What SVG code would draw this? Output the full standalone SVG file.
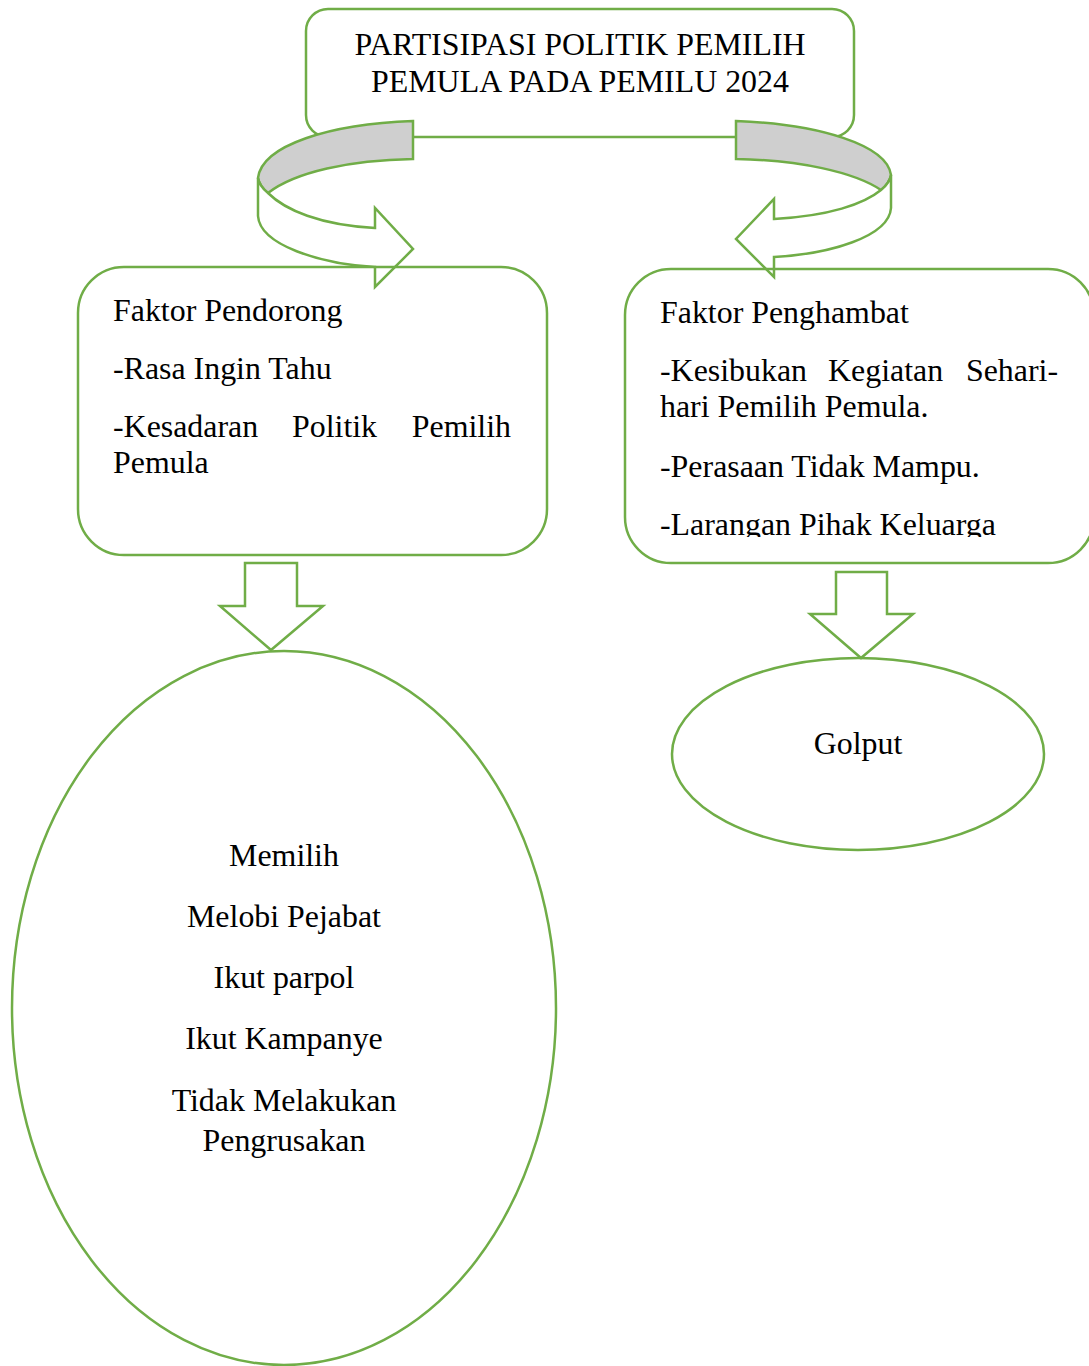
<svg xmlns="http://www.w3.org/2000/svg" width="1089" height="1366" viewBox="0 0 1089 1366">
<style>
.s{fill:none;stroke:#70AD47;stroke-width:2.5;stroke-linejoin:miter}
.w{fill:#FFFFFF;stroke:#70AD47;stroke-width:2.5}
.g{fill:#CFCFCF;stroke:#70AD47;stroke-width:2.5}
text{font-family:"Liberation Serif","Times New Roman",serif;font-size:31.9px;fill:#000}
.c{text-anchor:middle}
</style>
<defs>
<clipPath id="clipR"><rect x="620" y="260" width="469" height="277"/></clipPath>
</defs>
<rect width="1089" height="1366" fill="#FFFFFF"/>
<g id="title">
<rect class="w" x="306" y="9" width="548" height="128" rx="22"/>
<text class="c" x="580" y="55">PARTISIPASI POLITIK PEMILIH</text>
<text class="c" x="580" y="92">PEMULA PADA PEMILU 2024</text>
</g>
<g id="connectors">
<path class="g" d="M413,121 C330,124 262,145 258,178 C259,184 263,189 268,193 C295,172 350,160 413,159 Z"/>
<path class="w" d="M258,178 L258,216 C260,245 320,264 375,267 L375,287 L413,249 L375,208 L375,228 C320,225 285,210 268,193 C263,189 259,184 258,178 Z"/>
<path class="g" d="M736,121 C819,124 887,145 891,175 C890,181 886,186 881,190 C854,172 799,160 736,159 Z"/>
<path class="w" d="M891,175 L891,208 C889,237 829,254 774,257 L774,277 L736,239 L774,199 L774,219 C829,216 864,204 881,190 C886,186 890,181 891,175 Z"/>
<path class="w" d="M245,563 L297,563 L297,606 L323,606 L271,650 L220,606 L245,606 Z"/>
<path class="w" d="M836,572 L887,572 L887,614 L913,614 L861,658 L810,614 L836,614 Z"/>
</g>
<g id="pendorong">
<rect class="s" x="78" y="267" width="469" height="288" rx="46"/>
<text x="113" y="321">Faktor Pendorong</text>
<text x="113" y="379">-Rasa Ingin Tahu</text>
<text x="113" y="437">-Kesadaran</text>
<text x="292" y="437">Politik</text>
<text x="511" y="437" text-anchor="end">Pemilih</text>
<text x="113" y="473">Pemula</text>
</g>
<g id="penghambat">
<rect class="s" x="625" y="269" width="469" height="294" rx="46"/>
<text x="660" y="323">Faktor Penghambat</text>
<text x="660" y="381">-Kesibukan</text>
<text x="828" y="381">Kegiatan</text>
<text x="1058" y="381" text-anchor="end">Sehari-</text>
<text x="660" y="417">hari Pemilih Pemula.</text>
<text x="660" y="477">-Perasaan Tidak Mampu.</text>
<text x="660" y="535" clip-path="url(#clipR)">-Larangan Pihak Keluarga</text>
</g>
<g id="memilih">
<ellipse class="s" cx="284" cy="1008" rx="272" ry="357"/>
<text class="c" x="284" y="866">Memilih</text>
<text class="c" x="284" y="927">Melobi Pejabat</text>
<text class="c" x="284" y="988">Ikut parpol</text>
<text class="c" x="284" y="1049">Ikut Kampanye</text>
<text class="c" x="284" y="1111">Tidak Melakukan</text>
<text class="c" x="284" y="1151">Pengrusakan</text>
</g>
<g id="golput">
<ellipse class="s" cx="858" cy="754" rx="186" ry="96"/>
<text class="c" x="858" y="754">Golput</text>
</g>
</svg>
